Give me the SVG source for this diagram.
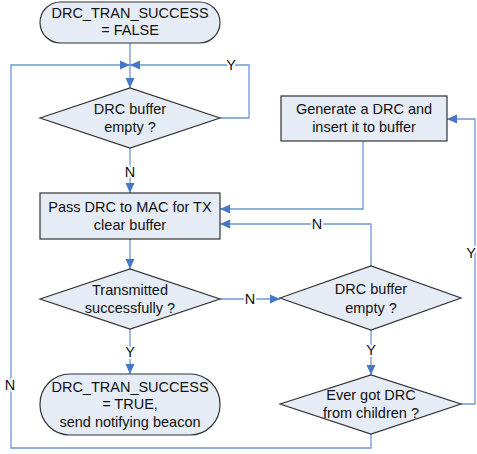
<svg xmlns="http://www.w3.org/2000/svg" width="477" height="454" viewBox="0 0 477 454">
<style>
.n{fill:#E6ECF6;stroke:#333;stroke-width:1.2}
.t{font-family:"Liberation Sans",Arial,sans-serif;font-size:14.5px;fill:#111;text-anchor:middle}
.c{fill:none;stroke:#6F97D2;stroke-width:1.3}
.l{font-family:"Liberation Sans",Arial,sans-serif;font-size:14.5px;fill:#111;text-anchor:middle;stroke:#fff;stroke-width:4;paint-order:stroke}
</style>
<defs>
<marker id="a" markerUnits="userSpaceOnUse" markerWidth="11" markerHeight="10" refX="10" refY="5" orient="auto">
<path d="M0,0.5 L10,5 L0,9.5 z" fill="#4678C6"/>
</marker>
</defs>
<g id="connectors">
<path class="c" d="M130,43 V88" marker-end="url(#a)"/>
<path class="c" d="M371,434 V448 H11 V65 H130" marker-end="url(#a)"/>
<path class="c" d="M220,118 H249 V65 H130" marker-end="url(#a)"/>
<path class="c" d="M130,148 V193" marker-end="url(#a)"/>
<path class="c" d="M363,141 V209 H220" marker-end="url(#a)"/>
<path class="c" d="M371,266 V224 H220" marker-end="url(#a)"/>
<path class="c" d="M130,239 V269" marker-end="url(#a)"/>
<path class="c" d="M220,299 H280" marker-end="url(#a)"/>
<path class="c" d="M371,330 V375" marker-end="url(#a)"/>
<path class="c" d="M130,329 V374" marker-end="url(#a)"/>
<path class="c" d="M461,404 H475 V119 H447" marker-end="url(#a)"/>
<text class="l" x="231" y="70">Y</text>
<text class="l" x="130" y="177">N</text>
<text class="l" x="317" y="229">N</text>
<text class="l" x="250" y="304">N</text>
<text class="l" x="130" y="357">Y</text>
<text class="l" x="371" y="355">Y</text>
<text class="l" x="471" y="258">Y</text>
<text class="l" x="10" y="390">N</text>
</g>
<g id="start">
<rect class="n" x="40" y="2" width="180" height="41" rx="20.5"/>
<text class="t" x="130" y="18">DRC_TRAN_SUCCESS</text>
<text class="t" x="130" y="35">= FALSE</text>
</g>
<g id="buffer-empty-1">
<path class="n" d="M40,118 L130,88 L220,118 L130,148 z"/>
<text class="t" x="130" y="114">DRC buffer</text>
<text class="t" x="130" y="132">empty ?</text>
</g>
<g id="pass-drc">
<rect class="n" x="40" y="193" width="180" height="46"/>
<text class="t" x="130" y="212">Pass DRC to MAC for TX</text>
<text class="t" x="130" y="230">clear buffer</text>
</g>
<g id="transmitted">
<path class="n" d="M40,299 L130,269 L220,299 L130,329 z"/>
<text class="t" x="130" y="295">Transmitted</text>
<text class="t" x="130" y="313">successfully ?</text>
</g>
<g id="end">
<rect class="n" x="40" y="374" width="180" height="61" rx="30"/>
<text class="t" x="130" y="392">DRC_TRAN_SUCCESS</text>
<text class="t" x="130" y="409">= TRUE,</text>
<text class="t" x="130" y="427">send notifying beacon</text>
</g>
<g id="generate">
<rect class="n" x="281" y="96" width="166" height="45"/>
<text class="t" x="364" y="114">Generate a DRC and</text>
<text class="t" x="364" y="132">insert it to buffer</text>
</g>
<g id="buffer-empty-2">
<path class="n" d="M280,298 L371,266 L461,298 L371,330 z"/>
<text class="t" x="371" y="294">DRC buffer</text>
<text class="t" x="371" y="313">empty ?</text>
</g>
<g id="ever-got">
<path class="n" d="M280,404 L371,375 L461,404 L371,434 z"/>
<text class="t" x="371" y="400">Ever got DRC</text>
<text class="t" x="371" y="418">from children ?</text>
</g>
</svg>
